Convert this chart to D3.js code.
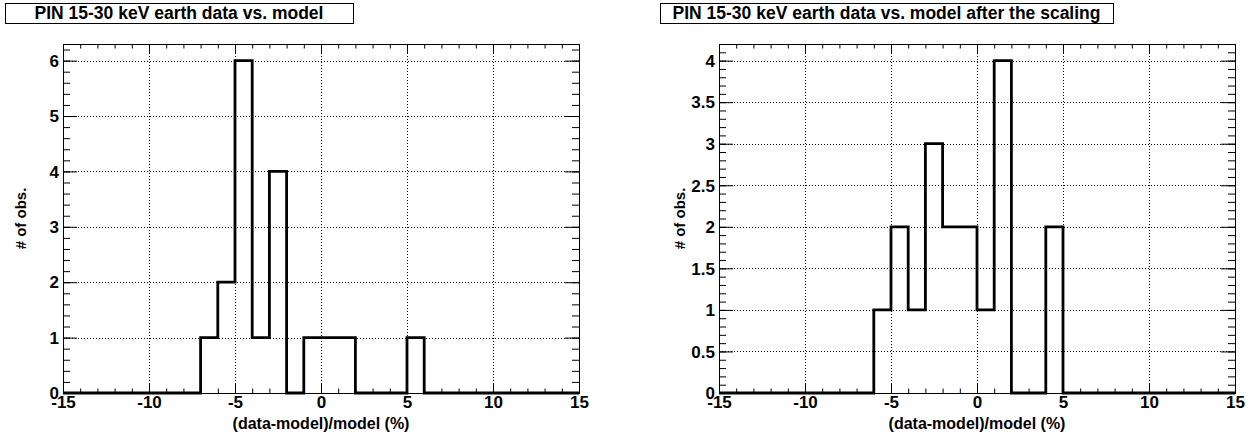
<!DOCTYPE html>
<html>
<head>
<meta charset="utf-8">
<script src="https://cdn.jsdelivr.net/npm/d3@7"></script>
<style>
  html, body { margin: 0; padding: 0; background: #fff; }
  svg { display: block; }
  text { font-family: "Liberation Sans", Arial, Helvetica, sans-serif; font-weight: bold; fill: #000; }
</style>
</head>
<body>
<svg id="chart" width="1254" height="437"></svg>
<script>
// ---- data ----
const binLowEdges = [-15,-14,-13,-12,-11,-10,-9,-8,-7,-6,-5,-4,-3,-2,-1,0,1,2,3,4,5,6,7,8,9,10,11,12,13,14];
const binWidth = 1;
const countsBefore = [0,0,0,0,0,0,0,0,1,2,6,1,4,0,1,1,1,0,0,0,1,0,0,0,0,0,0,0,0,0];
const countsAfter  = [0,0,0,0,0,0,0,0,0,1,2,1,3,2,2,1,4,0,0,2,0,0,0,0,0,0,0,0,0,0];
const xMajorTicks = [-15,-10,-5,0,5,10,15];
const xMinorTicks = [-15,-14,-13,-12,-11,-10,-9,-8,-7,-6,-5,-4,-3,-2,-1,0,1,2,3,4,5,6,7,8,9,10,11,12,13,14,15];
const yMajorTicksLeft = [0,1,2,3,4,5,6];
const yMinorTicksLeft = [0,0.2,0.4,0.6,0.8,1,1.2,1.4,1.6,1.8,2,2.2,2.4,2.6,2.8,3,3.2,3.4,3.6,3.8,4,4.2,4.4,4.6,4.8,5,5.2,5.4,5.6,5.8,6,6.2];
const yMajorTicksRight = [0,0.5,1,1.5,2,2.5,3,3.5,4];
const yMinorTicksRight = [0,0.1,0.2,0.3,0.4,0.5,0.6,0.7,0.8,0.9,1,1.1,1.2,1.3,1.4,1.5,1.6,1.7,1.8,1.9,2,2.1,2.2,2.3,2.4,2.5,2.6,2.7,2.8,2.9,3,3.1,3.2,3.3,3.4,3.5,3.6,3.7,3.8,3.9,4,4.1];
const titles = ["PIN 15-30 keV earth data vs. model", "PIN 15-30 keV earth data vs. model after the scaling"];
const xTitle = "(data-model)/model (%)";
const yTitle = "# of obs.";
const xDomain = [-15, 15];
const yMaxLeft = 6.3;
const yMaxRight = 4.2;

// ---- layout ----
const svg = d3.select("#chart");
const panels = [
  { frame: {x0: 63, x1: 579, y0: 44, y1: 393}, titleBox: {x0: 5, x1: 353, y0: 3, y1: 23},
    counts: countsBefore, yMax: yMaxLeft, yMajor: yMajorTicksLeft, yMinor: yMinorTicksLeft, title: titles[0], yTitleX: 26 },
  { frame: {x0: 719, x1: 1235, y0: 44, y1: 393}, titleBox: {x0: 660, x1: 1113, y0: 3, y1: 23},
    counts: countsAfter, yMax: yMaxRight, yMajor: yMajorTicksRight, yMinor: yMinorTicksRight, title: titles[1], yTitleX: 685 }
];

panels.forEach(p => {
  const f = p.frame;
  const x = d3.scaleLinear().domain(xDomain).range([f.x0, f.x1]);
  const y = d3.scaleLinear().domain([0, p.yMax]).range([f.y1, f.y0]);
  const g = svg.append("g");

  // title box
  const tb = p.titleBox;
  g.append("rect").attr("x", tb.x0 + 0.5).attr("y", tb.y0 + 0.5)
    .attr("width", tb.x1 - tb.x0).attr("height", tb.y1 - tb.y0)
    .attr("fill", "#fff").attr("stroke", "#000").attr("stroke-width", 1);
  g.append("text").attr("x", (tb.x0 + tb.x1) / 2).attr("y", (tb.y0 + tb.y1) / 2 + 6)
    .attr("text-anchor", "middle").style("font-size", "17.5px").text(p.title);

  // grid
  const grid = g.append("g").attr("stroke", "#000").attr("stroke-width", 1).attr("stroke-dasharray", "1,2");
  xMajorTicks.forEach(v => {
    grid.append("line").attr("x1", Math.round(x(v)) + 0.5).attr("x2", Math.round(x(v)) + 0.5)
      .attr("y1", f.y0).attr("y2", f.y1);
  });
  p.yMajor.forEach(v => {
    grid.append("line").attr("y1", Math.round(y(v)) + 0.5).attr("y2", Math.round(y(v)) + 0.5)
      .attr("x1", f.x0).attr("x2", f.x1);
  });

  // axes (ticks inside the frame)
  const xMajLen = 9, xMinLen = 4.5, yMajLen = 14, yMinLen = 7;
  const axB = g.append("g").attr("transform", `translate(0,${f.y1})`)
    .call(d3.axisBottom(x).tickValues(xMajorTicks).tickSize(-xMajLen).tickPadding(3).tickFormat(d => String(d)));
  const axBm = g.append("g").attr("transform", `translate(0,${f.y1})`)
    .call(d3.axisBottom(x).tickValues(xMinorTicks).tickSize(-xMinLen).tickFormat(""));
  const axT = g.append("g").attr("transform", `translate(0,${f.y0})`)
    .call(d3.axisTop(x).tickValues(xMajorTicks).tickSize(-xMajLen).tickFormat(""));
  const axTm = g.append("g").attr("transform", `translate(0,${f.y0})`)
    .call(d3.axisTop(x).tickValues(xMinorTicks).tickSize(-xMinLen).tickFormat(""));
  const axL = g.append("g").attr("transform", `translate(${f.x0},0)`)
    .call(d3.axisLeft(y).tickValues(p.yMajor).tickSize(-yMajLen).tickPadding(4).tickFormat(d => String(d)));
  const axLm = g.append("g").attr("transform", `translate(${f.x0},0)`)
    .call(d3.axisLeft(y).tickValues(p.yMinor).tickSize(-yMinLen).tickFormat(""));
  const axR = g.append("g").attr("transform", `translate(${f.x1},0)`)
    .call(d3.axisRight(y).tickValues(p.yMajor).tickSize(-yMajLen).tickFormat(""));
  const axRm = g.append("g").attr("transform", `translate(${f.x1},0)`)
    .call(d3.axisRight(y).tickValues(p.yMinor).tickSize(-yMinLen).tickFormat(""));
  [axB, axBm, axT, axTm, axL, axLm, axR, axRm].forEach(a => {
    a.select(".domain").remove();
    a.selectAll(".tick line").attr("stroke", "#000").attr("stroke-width", 1);
    a.selectAll("text").style("font-size", "17px").style("font-family", null).attr("fill", "#000");
  });
  axB.selectAll(".tick text").attr("dy", "0.68em");
  axL.selectAll(".tick text").attr("dy", "0.34em");

  // frame
  g.append("rect").attr("x", f.x0 + 0.5).attr("y", f.y0 + 0.5)
    .attr("width", f.x1 - f.x0).attr("height", f.y1 - f.y0)
    .attr("fill", "none").attr("stroke", "#000").attr("stroke-width", 1);

  // histogram outline
  const pts = [[xDomain[0], 0]];
  binLowEdges.forEach((lo, i) => {
    pts.push([lo, p.counts[i]]);
    pts.push([lo + binWidth, p.counts[i]]);
  });
  pts.push([xDomain[1], 0]);
  const line = d3.line().x(d => x(d[0])).y(d => y(d[1]));
  g.append("path").attr("d", line(pts)).attr("fill", "none")
    .attr("stroke", "#000").attr("stroke-width", 2.8).attr("stroke-linejoin", "miter");

  // axis titles
  g.append("text").attr("x", (f.x0 + f.x1) / 2).attr("y", 429)
    .attr("text-anchor", "middle").style("font-size", "16px").text(xTitle);
  g.append("text").attr("transform", `translate(${p.yTitleX},${(f.y0 + f.y1) / 2}) rotate(-90)`)
    .attr("text-anchor", "middle").style("font-size", "15px").text(yTitle);
});
</script>
</body>
</html>
